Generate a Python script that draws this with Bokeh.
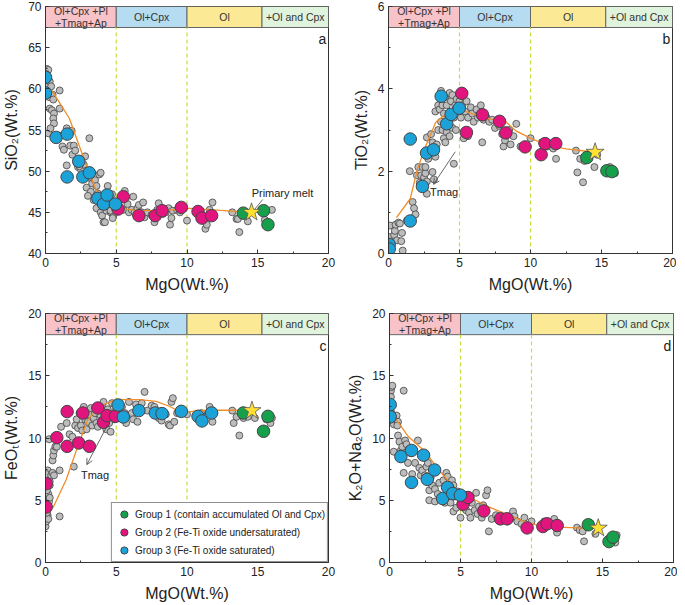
from bokeh.plotting import figure
from bokeh.layouts import column, row
from bokeh.models import Range1d, SingleIntervalTicker, Legend, LegendItem, Arrow, OpenHead
from bokeh.embed import file_html
from bokeh.resources import INLINE
from bokeh.core.properties import value

FONT = "Liberation Sans"

# ---------------- stage bands (shared) ----------------
band_left = [0, 5, 10, 15.3]
band_right = [5, 10, 15.3, 20]
band_labels = ["Ol+Cpx +Pl\n+Tmag+Ap", "Ol+Cpx", "Ol", "+Ol and Cpx"]
band_colors = ["#F8C3C8", "#B5DCF0", "#FCE996", "#E0F4DD"]
stage_lines = [5, 10]
group_labels = ["Group 1 (contain accumulated Ol and Cpx)",
                "Group 2 (Fe-Ti oxide undersaturated)",
                "Group 3 (Fe-Ti oxide saturated)"]

# ---------------- panel a : SiO2 ----------------
a_gray_x = [0.1, 0.2, 0.05, 0.15, 0.3, 0.4, 0.05, 0.25, 0.5, 0.55, 0.3, 0.45, 0.6, 0.55, 0.6, 0.2, 0.35, 1.0, 1.0,
            1.2, 1.3, 0.9, 1.0, 1.5, 1.5, 1.85, 1.75, 2.0, 1.9, 2.2, 2.1, 2.3, 2.5, 2.5, 2.8, 2.7, 2.8, 2.9, 3.1,
            3.1, 3.3, 3.2, 3.5, 3.4, 3.6, 3.7, 3.8, 3.9, 3.6, 3.9, 4.0, 4.1, 4.2, 4.3, 4.4, 4.5, 4.6, 4.7, 4.8,
            4.9, 4.75, 5.1, 5.3, 5.5, 5.6, 5.8, 5.9, 6.1, 6.2, 6.3, 6.5, 6.6, 6.8, 6.9, 7.0, 7.2, 7.5, 7.7, 7.9,
            8.0, 8.3, 8.5, 8.7, 8.8, 8.9, 9.0, 9.3, 9.5, 10.0, 10.9, 11.1, 11.3, 11.4, 11.6, 11.8, 13.2, 13.5,
            13.6, 13.7, 14.3, 14.0, 15.5, 16.0, 15.7, 4.4, 4.6, 3.0, 2.4]
a_gray_y = [62.4, 62.3, 61.8, 60.5, 60.9, 60.3, 59.2, 59.0, 59.3, 58.7, 57.6, 57.4, 57.0, 56.4, 55.8, 54.6, 55.2,
            59.8, 57.6, 53.0, 52.6, 53.9, 54.3, 55.2, 50.7, 54.9, 53.1, 53.1, 52.0, 51.0, 52.5, 50.5, 50.2, 49.2,
            51.8, 50.8, 49.5, 48.0, 54.0, 49.2, 48.5, 47.5, 48.9, 46.5, 48.2, 47.3, 49.6, 49.8, 45.5, 45.0, 44.6,
            43.8, 43.8, 45.2, 48.2, 46.6, 45.0, 47.2, 44.6, 45.6, 44.3, 46.1, 46.6, 45.3, 47.6, 46.0, 45.0, 45.3,
            46.9, 45.0, 45.5, 45.9, 45.0, 46.2, 44.4, 45.0, 44.7, 43.8, 45.3, 46.1, 44.8, 45.0, 45.5, 43.5, 44.3,
            45.2, 45.3, 45.0, 44.0, 44.2, 44.6, 43.0, 43.5, 45.3, 46.2, 45.0, 44.2, 44.2, 42.6, 43.9, 44.8, 44.1,
            45.3, 43.5, 45.8, 45.2, 47.0, 50.6]
a_trend_x = [0.47, 1.69, 2.4, 3.0, 3.58, 4.28, 5.1, 6.6, 8.5, 9.93, 11.8, 14.56]
a_trend_y = [59.76, 56.4, 53.0, 50.2, 47.7, 46.2, 45.5, 45.2, 45.2, 45.5, 45.3, 45.0]
a_g1_x = [13.98, 15.41, 15.72]
a_g1_y = [44.9, 45.2, 43.5]
a_g2_x = [5.5, 5.13, 6.6, 7.76, 8.24, 9.6, 10.78, 11.06, 11.74]
a_g2_y = [46.9, 45.4, 44.6, 44.6, 45.2, 45.6, 45.1, 44.3, 44.6]
a_g3_x = [0.0, 0.0, 0.75, 1.53, 1.53, 2.35, 2.64, 3.1, 3.7, 4.1, 4.35, 4.94]
a_g3_y = [61.4, 59.5, 54.1, 54.5, 49.3, 51.2, 49.3, 49.8, 46.7, 46.0, 47.1, 46.0]
a_star = (14.56, 45.0)

# ---------------- panel b : TiO2 ----------------
b_gray_x = [0.0, 0.05, 0.1, 0.15, 0.1, 0.4, 0.45, 0.5, 0.6, 0.7, 0.8, 0.9, 1.0, 0.95, 1.3, 1.5, 1.7, 1.8, 1.9, 2.0,
            2.1, 2.2, 2.3, 2.4, 2.5, 2.6, 2.6, 2.7, 2.7, 2.7, 2.8, 2.9, 3.0, 3.1, 3.1, 3.2, 3.3, 3.3, 3.4, 3.5,
            3.5, 3.6, 3.7, 3.7, 3.8, 3.8, 3.9, 3.9, 4.0, 4.0, 4.1, 4.1, 4.2, 4.3, 4.3, 4.4, 4.5, 4.5, 4.6, 4.6,
            4.7, 4.75, 4.8, 4.9, 5.0, 5.1, 5.2, 5.3, 5.4, 5.5, 5.6, 5.6, 5.8, 5.9, 6.0, 6.2, 6.3, 6.5, 6.6, 6.7,
            6.9, 7.1, 7.3, 7.5, 7.8, 8.0, 8.1, 8.2, 8.5, 8.6, 8.8, 9.0, 9.3, 10.0, 10.8, 11.2, 11.6, 11.8, 13.2,
            13.3, 13.5, 13.7, 13.8, 14.1, 14.5, 14.7, 15.5, 15.7, 15.95, 15.6]
b_gray_y = [0.05, 0.3, 0.4, 0.2, 0.68, 0.45, 0.55, 0.7, 0.32, 0.75, 0.73, 0.3, 0.07, 0.5, 0.8, 2.0, 1.25, 1.1, 0.95,
            1.9, 2.1, 1.72, 1.9, 2.1, 1.85, 1.95, 2.1, 1.45, 1.75, 2.82, 2.3, 2.5, 2.9, 1.98, 2.7, 1.8, 2.35, 3.45,
            2.65, 3.0, 3.6, 3.5, 3.95, 3.2, 3.6, 3.0, 2.8, 3.4, 2.7, 3.8, 3.6, 2.95, 3.2, 3.9, 2.85, 3.7, 3.05,
            3.85, 3.3, 2.18, 3.6, 3.0, 3.75, 3.4, 3.7, 3.3, 3.6, 2.8, 3.45, 3.7, 3.3, 2.85, 3.55, 3.4, 3.2, 3.5,
            3.3, 3.6, 2.7, 3.25, 3.3, 3.2, 3.25, 3.05, 3.1, 2.9, 2.6, 2.75, 3.0, 2.65, 2.85, 3.15, 2.6, 2.8, 2.7,
            2.6, 2.55, 2.3, 2.5, 1.97, 2.3, 1.73, 2.25, 2.3, 2.1, 2.4, 2.05, 1.98, 1.95, 2.1]
b_trend_x = [0.56, 1.53, 2.04, 2.63, 3.33, 4.04, 4.98, 5.92, 7.1, 8.26, 8.97, 10.14, 11.3, 12.5, 14.55]
b_trend_y = [0.87, 1.33, 2.05, 2.62, 3.19, 3.39, 3.51, 3.39, 3.27, 3.2, 2.98, 2.78, 2.62, 2.54, 2.46]
b_g1_x = [13.97, 15.38, 15.73]
b_g1_y = [2.33, 2.01, 1.99]
b_g2_x = [5.16, 5.49, 6.62, 7.82, 8.26, 9.62, 10.75, 11.03, 11.78]
b_g2_y = [3.89, 2.94, 3.37, 3.21, 2.93, 2.59, 2.40, 2.67, 2.67]
b_g3_x = [0.05, 0.05, 1.53, 1.53, 2.39, 2.68, 3.17, 3.71, 4.1, 4.41, 4.98]
b_g3_y = [0.22, 0.11, 0.79, 2.78, 1.63, 2.44, 2.52, 3.82, 3.15, 3.38, 3.53]
b_star = (14.55, 2.46)

# ---------------- panel c : FeOT ----------------
c_gray_x = [0.0, 0.05, 0.1, 0.15, 0.2, 0.1, 0.2, 0.05, 0.2, 0.25, 0.3, 0.1, 0.3, 0.2, 0.3, 0.15, 0.05, 0.3, 0.4,
            0.5, 0.6, 0.5, 0.55, 0.6, 0.7, 0.25, 0.8, 1.0, 1.0, 1.1, 1.5, 1.7, 1.9, 2.0, 2.1, 2.2, 2.3, 2.4, 2.5,
            2.6, 2.7, 2.8, 2.9, 3.0, 3.1, 3.2, 3.3, 3.4, 3.5, 3.6, 3.7, 3.8, 3.9, 4.0, 4.1, 4.2, 4.3, 4.4, 4.5,
            4.6, 4.7, 4.8, 4.9, 5.0, 5.2, 5.4, 5.6, 5.7, 5.9, 6.1, 6.2, 6.4, 6.5, 6.8, 7.0, 7.2, 7.5, 7.7, 8.0,
            8.2, 8.5, 8.7, 8.8, 8.9, 9.0, 9.1, 9.3, 10.0, 11.0, 11.2, 11.6, 11.8, 13.2, 13.3, 13.5, 13.7, 14.0,
            14.3, 14.8, 15.6, 15.9, 16.0]
c_gray_y = [2.9, 3.3, 3.6, 3.8, 3.5, 4.0, 4.5, 5.0, 5.5, 4.9, 5.2, 5.8, 6.2, 6.8, 7.2, 7.4, 7.1, 6.5, 7.0, 7.2,
            7.0, 8.2, 8.6, 9.0, 9.3, 9.9, 9.3, 7.4, 3.7, 10.9, 11.2, 10.3, 10.1, 7.7, 11.0, 11.5, 10.8, 12.0, 11.0,
            10.6, 12.5, 11.5, 10.7, 11.3, 11.9, 12.4, 11.0, 11.6, 12.0, 11.2, 10.9, 12.2, 11.8, 12.6, 12.9, 11.5,
            10.7, 12.3, 11.2, 10.5, 12.8, 12.0, 11.5, 12.3, 11.9, 12.5, 12.0, 11.2, 12.9, 12.0, 11.5, 12.7, 11.3,
            12.8, 13.7, 12.2, 12.6, 12.5, 11.6, 11.4, 11.9, 11.1, 11.0, 12.9, 13.2, 11.3, 12.0, 11.9, 12.0, 11.3,
            12.5, 11.3, 12.2, 11.2, 11.7, 10.2, 11.6, 11.7, 11.6, 11.5, 11.2, 11.6]
c_trend_x = [0.52, 1.46, 2.28, 2.99, 3.81, 4.99, 6.64, 7.81, 8.75, 9.58, 10.4, 11.34, 13.2, 14.59]
c_trend_y = [4.37, 6.65, 9.33, 11.47, 12.55, 13.08, 13.08, 12.95, 12.55, 12.06, 12.14, 12.23, 12.23, 12.2]
c_g1_x = [13.98, 15.72, 15.41]
c_g1_y = [12.01, 11.74, 10.54]
c_g2_x = [0.05, 0.05, 0.8, 1.53, 1.53, 2.35, 2.64, 3.1, 3.7, 4.1, 4.35, 4.94]
c_g2_y = [6.33, 4.45, 10.03, 12.12, 9.33, 9.6, 12.01, 9.33, 12.41, 11.26, 11.8, 11.74]
c_g3_x = [5.13, 5.5, 6.6, 7.76, 8.24, 9.6, 10.78, 11.06, 11.74]
c_g3_y = [12.65, 11.69, 12.2, 12.01, 11.96, 12.14, 11.74, 11.37, 12.01]
c_star = (14.59, 12.2)

# ---------------- panel d : K2O+Na2O ----------------
d_gray_x = [0.05, 0.1, 0.15, 0.2, 0.1, 0.05, 0.15, 0.2, 0.3, 0.4, 0.5, 0.6, 0.55, 0.3, 0.6, 0.7, 0.8, 0.9, 1.0,
            1.0, 1.1, 1.2, 1.3, 1.5, 1.6, 1.8, 2.0, 2.1, 2.2, 2.3, 2.5, 2.6, 2.7, 2.8, 2.8, 2.9, 3.0, 3.2, 3.2,
            3.4, 3.5, 3.6, 3.8, 3.9, 4.0, 4.1, 4.2, 4.3, 4.4, 4.5, 4.5, 4.6, 4.7, 4.8, 5.0, 5.1, 5.2, 5.3, 5.4,
            5.5, 5.6, 5.7, 5.8, 6.0, 6.1, 6.2, 6.3, 6.5, 6.6, 6.8, 6.9, 7.0, 7.2, 7.5, 7.8, 8.0, 8.3, 8.5, 8.7,
            8.8, 9.0, 9.3, 9.5, 10.0, 10.9, 11.3, 11.6, 11.8, 13.2, 13.4, 13.6, 13.7, 14.5, 15.6, 15.9, 16.0]
d_gray_y = [14.0, 13.8, 14.1, 14.2, 13.3, 12.3, 12.0, 11.4, 11.1, 11.5, 11.8, 11.3, 11.0, 8.9, 10.2, 9.7, 9.0,
            9.3, 13.8, 7.2, 9.8, 9.5, 8.0, 8.8, 7.1, 8.0, 9.8, 7.6, 7.0, 7.4, 7.0, 7.7, 8.0, 5.0, 5.8, 6.8, 6.2,
            5.9, 4.9, 5.5, 6.4, 5.1, 6.6, 4.8, 7.2, 6.9, 5.0, 4.8, 6.6, 4.1, 6.2, 5.3, 4.4, 5.7, 3.6, 4.6, 4.4,
            5.4, 4.2, 5.0, 4.0, 3.6, 4.8, 4.2, 5.6, 3.9, 4.5, 3.6, 4.6, 5.4, 5.8, 2.5, 3.5, 3.8, 3.3, 3.6, 3.3,
            3.5, 4.1, 3.7, 3.3, 3.1, 3.6, 3.3, 3.3, 3.1, 3.5, 2.4, 2.8, 2.6, 2.5, 1.7, 2.3, 2.1, 1.6, 2.2]
d_trend_x = [0.4, 1.34, 2.52, 3.46, 4.64, 5.81, 6.99, 8.16, 9.58, 10.52, 11.93, 13.58, 14.7]
d_trend_y = [11.6, 10.1, 8.9, 7.43, 5.95, 5.14, 4.46, 3.92, 3.24, 2.97, 2.84, 2.76, 2.76]
d_g1_x = [14.0, 15.46, 15.74]
d_g1_y = [3.03, 1.68, 2.03]
d_g2_x = [5.18, 5.53, 6.64, 7.81, 8.28, 9.69, 10.8, 11.1, 11.81]
d_g2_y = [4.68, 5.22, 4.14, 3.51, 3.51, 2.78, 2.89, 3.11, 2.97]
d_g3_x = [0.05, 0.05, 0.8, 1.55, 1.55, 2.4, 2.66, 3.18, 3.74, 4.09, 4.45, 4.99]
d_g3_y = [12.68, 11.7, 8.51, 9.0, 6.43, 8.62, 6.68, 7.43, 5.14, 6.03, 5.54, 5.41]
d_star = (14.7, 2.76)

GRAY_FILL = "#BDBDBD"
EDGE = "#444444"
C_G1 = "#17A04C"
C_G2 = "#E2147E"
C_G3 = "#1BA3D9"
TREND = "#F28C28"
DASH = "#C9DD3F"


def make_panel(ylo, yhi, ystep, ylabel, letter, gx, gy, tx, ty, g1, g2, g3, star,
               left_b, right_b, top_b, bottom_b, fw, fh, legend=False):
    p = figure(frame_width=fw, frame_height=fh, output_backend="svg", toolbar_location=None,
               x_range=Range1d(0, 20), y_range=Range1d(ylo, yhi),
               min_border_left=left_b, min_border_right=right_b,
               min_border_top=top_b, min_border_bottom=bottom_b)
    p.xgrid.visible = False
    p.ygrid.visible = False
    p.outline_line_color = "#333333"
    p.xaxis.ticker = SingleIntervalTicker(interval=5, num_minor_ticks=2)
    p.yaxis.ticker = SingleIntervalTicker(interval=ystep, num_minor_ticks=2)
    for ax in (p.xaxis[0], p.yaxis[0]):
        ax.axis_line_color = "#333333"
        ax.major_tick_in = 4
        ax.major_tick_out = 0
        ax.minor_tick_in = 2
        ax.minor_tick_out = 0
        ax.major_tick_line_color = "#333333"
        ax.minor_tick_line_color = "#333333"
        ax.major_label_text_font = FONT
        ax.major_label_text_font_size = "12px"
        ax.major_label_text_color = "#222222"
        ax.axis_label_text_font = FONT
        ax.axis_label_text_font_size = "16px"
        ax.axis_label_text_font_style = "normal"
        ax.axis_label_text_color = "#222222"
    p.xaxis.axis_label = "MgO(Wt.%)"
    p.yaxis.axis_label = ylabel
    p.xaxis.major_label_standoff = 4
    p.xaxis.axis_label_standoff = 6
    p.yaxis.major_label_standoff = 4
    p.yaxis.axis_label_standoff = 5

    rng = yhi - ylo
    band_bot = yhi - 0.085 * rng
    # stage bands
    p.quad(left=band_left, right=band_right, top=yhi, bottom=band_bot,
           fill_color=band_colors, line_color="#666666", line_width=1)
    mids = [(l + r) / 2 for l, r in zip(band_left, band_right)]
    p.text(x=mids, y=[(yhi + band_bot) / 2] * 4, text=band_labels,
           text_font=value(FONT), text_font_size="10.5px", text_color="#333333",
           text_align="center", text_baseline="middle", text_line_height=1.0)
    # stage boundaries
    p.segment(x0=stage_lines, x1=stage_lines, y0=[ylo] * 2, y1=[band_bot] * 2,
              line_color=DASH, line_dash="4 3", line_width=1.2)
    # panel letter
    p.text(x=[19.85], y=[band_bot - 0.015 * rng], text=[letter], text_font=value(FONT),
           text_font_size="14px", text_color="#222222", text_align="right", text_baseline="top")
    # data
    p.scatter(gx, gy, size=7, fill_color=GRAY_FILL, line_color=EDGE, line_width=0.8)
    p.line(tx, ty, line_color=TREND, line_width=1.3)
    r1 = p.scatter(g1[0], g1[1], size=12.5, fill_color=C_G1, line_color=EDGE, line_width=1)
    r2 = p.scatter(g2[0], g2[1], size=12.5, fill_color=C_G2, line_color=EDGE, line_width=1)
    r3 = p.scatter(g3[0], g3[1], size=12.5, fill_color=C_G3, line_color=EDGE, line_width=1)
    p.scatter([star[0]], [star[1]], marker="star", size=19, fill_color="#FFE033",
              line_color="#555555", line_width=0.8)
    if legend:
        lg = Legend(items=[LegendItem(label=group_labels[0], renderers=[r1]),
                           LegendItem(label=group_labels[1], renderers=[r2]),
                           LegendItem(label=group_labels[2], renderers=[r3])],
                    location="bottom_right", margin=0, padding=2, spacing=0,
                    glyph_width=20, glyph_height=18, label_height=18, label_standoff=1,
                    label_text_font=FONT, label_text_font_size="10px",
                    label_text_color="#222222",
                    border_line_color="#222222", border_line_width=1,
                    background_fill_alpha=1.0)
        p.add_layout(lg, "center")
    return p


pa = make_panel(40, 70, 5, "SiO₂(Wt.%)", "a", a_gray_x, a_gray_y, a_trend_x, a_trend_y,
                (a_g1_x, a_g1_y), (a_g2_x, a_g2_y), (a_g3_x, a_g3_y), a_star,
                38, 16, 6, 54, 283, 247)
pa.text(x=[16.75], y=[47.4], text=["Primary melt"], text_font=value(FONT), text_font_size="11px",
        text_color="#222222", text_align="center", text_baseline="middle")
pa.segment(x0=[15.35], y0=[46.55], x1=[14.8], y1=[45.4], line_color="#444444", line_width=0.8)

pb = make_panel(0, 6, 2, "TiO₂(Wt.%)", "b", b_gray_x, b_gray_y, b_trend_x, b_trend_y,
                (b_g1_x, b_g1_y), (b_g2_x, b_g2_y), (b_g3_x, b_g3_y), b_star,
                44, 4, 6, 54, 284, 247)
pb.add_layout(Arrow(end=OpenHead(size=6, line_color="#444444", line_width=0.8),
                    x_start=4.7, y_start=2.47, x_end=3.17, y_end=1.68,
                    line_color="#444444", line_width=0.8))
pb.text(x=[3.92], y=[1.5], text=["Tmag"], text_font=value(FONT), text_font_size="11px",
        text_color="#222222", text_align="center", text_baseline="middle")

pc = make_panel(0, 20, 5, "FeOₜ(Wt.%)", "c", c_gray_x, c_gray_y, c_trend_x, c_trend_y,
                (c_g1_x, c_g1_y), (c_g2_x, c_g2_y), (c_g3_x, c_g3_y), c_star,
                38, 16, 6, 40, 283, 249, legend=True)
pc.add_layout(Arrow(end=OpenHead(size=6, line_color="#444444", line_width=0.8),
                    x_start=4.4, y_start=11.07, x_end=2.92, y_end=7.86,
                    line_color="#444444", line_width=0.8))
pc.text(x=[3.5], y=[7.0], text=["Tmag"], text_font=value(FONT), text_font_size="11px",
        text_color="#222222", text_align="center", text_baseline="middle")

pd_ = make_panel(0, 20, 5, "K₂O+Na₂O(Wt.%)", "d", d_gray_x, d_gray_y, d_trend_x, d_trend_y,
                 (d_g1_x, d_g1_y), (d_g2_x, d_g2_y), (d_g3_x, d_g3_y), d_star,
                 44, 4, 6, 40, 284, 249)

layout = column(row(pa, pb), row(pc, pd_))
open("out.html", "w").write(file_html(layout, INLINE))
